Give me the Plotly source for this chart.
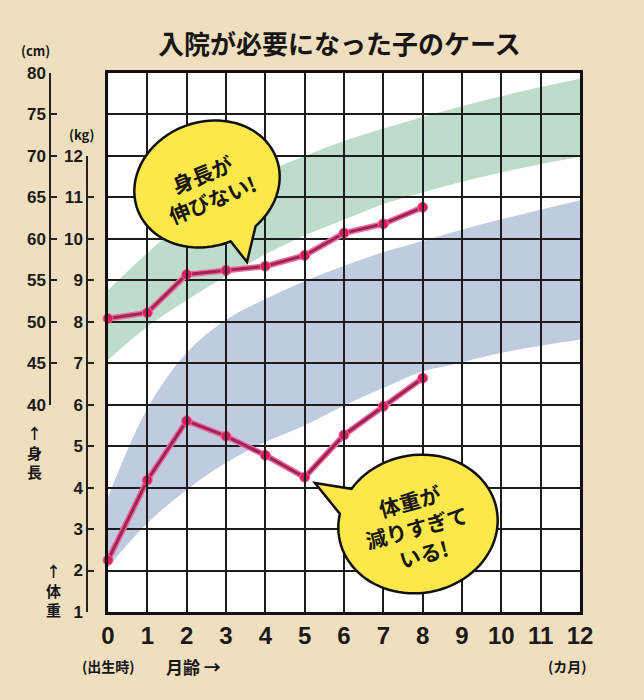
import numpy as np
import plotly.graph_objects as go

# ---------------- data ----------------
months = [0, 1, 2, 3, 4, 5, 6, 7, 8]
height_cm = [50.4, 51.1, 55.7, 56.2, 56.7, 58.0, 60.7, 61.8, 63.8]
weight_kg = [2.25, 4.18, 5.61, 5.24, 4.78, 4.25, 5.27, 5.96, 6.64]

ref_months = list(range(13))
height_upper = [53.8, 58.3, 62.3, 65.4, 68.0, 70.0, 71.8, 73.3, 74.7, 76.0, 77.2, 78.3, 79.3]
height_lower = [45.4, 49.4, 52.6, 55.5, 58.1, 60.4, 62.3, 64.2, 65.6, 66.9, 68.0, 69.0, 69.9]
weight_upper = [3.77, 5.9, 7.25, 8.05, 8.55, 8.98, 9.35, 9.68, 9.95, 10.22, 10.47, 10.7, 10.93]
weight_lower = [2.08, 3.14, 3.95, 4.6, 5.1, 5.5, 5.98, 6.4, 6.8, 7.02, 7.25, 7.42, 7.57]

x_ticks = list(range(13))
cm_ticks = [40, 45, 50, 55, 60, 65, 70, 75, 80]
kg_ticks = list(range(1, 13))

title_text = "入院が必要になった子のケース"
bubble1_text = "身長が<br>伸びない!"
bubble2_text = "体重が<br>減りすぎて<br>いる!"

# ---------------- geometry ----------------
W, H = 644, 700
ML, MR, MT, MB = 20, 64, 73, 88
PLOT_L = 108
pw = W - ML - MR
ph = H - MT - MB
xdom = [(PLOT_L - ML) / pw, 1.0]


def P(px, py):
    return (px - ML) / pw, (H - MB - py) / ph


BG = "#f0dfbf"
GREEN = "#bedccb"
BLUE = "#bfcce0"
NUM_FONT = "Liberation Sans Narrow, Arial Narrow, Liberation Sans, Arial, sans-serif"
JP_FONT = "Noto Sans CJK JP, sans-serif"


def bubble_path(cx, cy, a, b, phi_deg, t_end, t_start, tip):
    phi = np.radians(phi_deg)
    ts = np.radians(np.linspace(t_start, t_end + 360, 90))
    xs = cx + a * np.cos(ts) * np.cos(phi) - b * np.sin(ts) * np.sin(phi)
    ys = cy + a * np.cos(ts) * np.sin(phi) + b * np.sin(ts) * np.cos(phi)
    pts = [P(x, y) for x, y in zip(xs, ys)]
    d = "M %.5f %.5f " % pts[0]
    d += " ".join("L %.5f %.5f" % p for p in pts[1:])
    d += " L %.5f %.5f Z" % P(*tip)
    return d


fig = go.Figure()

# bands (subplot 1, under grid)
fig.add_trace(go.Scatter(x=ref_months, y=weight_lower, xaxis="x", yaxis="y", mode="lines",
                         line=dict(width=0, shape="spline", color=BLUE),
                         hoverinfo="skip", showlegend=False))
fig.add_trace(go.Scatter(x=ref_months, y=weight_upper, xaxis="x", yaxis="y", mode="lines",
                         line=dict(width=0, shape="spline", color=BLUE), fill="tonexty",
                         fillcolor=BLUE, hoverinfo="skip", showlegend=False))
fig.add_trace(go.Scatter(x=ref_months, y=height_lower, xaxis="x", yaxis="y5", mode="lines",
                         line=dict(width=0, shape="spline", color=GREEN),
                         hoverinfo="skip", showlegend=False))
fig.add_trace(go.Scatter(x=ref_months, y=height_upper, xaxis="x", yaxis="y5", mode="lines",
                         line=dict(width=0, shape="spline", color=GREEN), fill="tonexty",
                         fillcolor=GREEN, hoverinfo="skip", showlegend=False))

# child's curves (subplot 2, over grid)
for yax, vals in (("y2", weight_kg), ("y6", height_cm)):
    fig.add_trace(go.Scatter(x=months, y=vals, xaxis="x2", yaxis=yax, mode="lines",
                             line=dict(width=6, color="#ee6a9e"), cliponaxis=False,
                             hoverinfo="skip", showlegend=False))
    fig.add_trace(go.Scatter(x=months, y=vals, xaxis="x2", yaxis=yax, mode="lines+markers",
                             line=dict(width=3, color="#9e2458"),
                             marker=dict(size=10, color="#d81f5d",
                                         line=dict(width=1, color="#f06a9a")),
                             cliponaxis=False, showlegend=False))

# display axes (dummy traces so they render)
fig.add_trace(go.Scatter(x=[None], y=[None], xaxis="x2", yaxis="y3", showlegend=False, hoverinfo="skip"))
fig.add_trace(go.Scatter(x=[None], y=[None], xaxis="x2", yaxis="y4", showlegend=False, hoverinfo="skip"))

grid = dict(showgrid=True, gridcolor="#1c1c1c", gridwidth=2, zeroline=False,
            showline=True, mirror=True, linecolor="#111111", linewidth=3)

fig.update_layout(
    width=W, height=H,
    margin=dict(l=ML, r=MR, t=MT, b=MB),
    paper_bgcolor=BG, plot_bgcolor="rgba(0,0,0,0)",
    showlegend=False,
    xaxis=dict(domain=xdom, range=[0, 12], visible=False, anchor="y"),
    yaxis=dict(domain=[0, 1], range=[1, 14], visible=False, anchor="x"),
    yaxis5=dict(overlaying="y", range=[15, 80], visible=False, anchor="x"),
    xaxis2=dict(domain=xdom, range=[0, 12], anchor="y2", tickvals=x_ticks, ticks="",
                tickfont=dict(family=NUM_FONT, size=24, color="#1a1a1a", weight="bold"),
                ticklabelstandoff=0, **grid),
    yaxis2=dict(domain=[0, 1], range=[1, 14], anchor="x2", tick0=1, dtick=1, ticks="",
                showticklabels=False, **grid),
    yaxis6=dict(overlaying="y2", range=[15, 80], visible=False, anchor="x2"),
    yaxis3=dict(anchor="free", position=P(87, 0)[0], side="left", domain=[0, 11 / 13],
                range=[1, 12], tickvals=kg_ticks, ticks="inside", ticklen=6, tickwidth=1.5,
                tickcolor="#222", showline=True, linewidth=1.5, linecolor="#222",
                showgrid=False, zeroline=False,
                tickfont=dict(family=NUM_FONT, size=17, color="#1a1a1a", weight="bold")),
    yaxis4=dict(anchor="free", position=P(50, 0)[0], side="left", domain=[5 / 13, 1],
                range=[40, 80], tickvals=cm_ticks, ticks="inside", ticklen=6, tickwidth=1.5,
                tickcolor="#222", showline=True, linewidth=1.5, linecolor="#222",
                showgrid=False, zeroline=False,
                tickfont=dict(family=NUM_FONT, size=17, color="#1a1a1a", weight="bold")),
)

# white plotting area
fig.add_shape(type="rect", xref="paper", yref="paper", x0=xdom[0], x1=1, y0=0, y1=1,
              fillcolor="white", line=dict(width=0), layer="below")

# speech bubbles
fig.add_shape(type="path", xref="paper", yref="paper", layer="above",
              path=bubble_path(207, 184, 74, 62, -20, 65, 88, (247, 262)),
              fillcolor="#fde84c", line=dict(color="#111", width=2.5))
fig.add_shape(type="path", xref="paper", yref="paper", layer="above",
              path=bubble_path(418, 524, 80, 69, -10, 200, 222, (315, 483)),
              fillcolor="#fde84c", line=dict(color="#111", width=2.5))


def ann(px, py, text, size, family=JP_FONT, angle=0, xanchor="center", bold=True):
    x, y = P(px, py)
    fig.add_annotation(x=x, y=y, xref="paper", yref="paper", text=("<b>%s</b>" % text) if bold else text,
                       showarrow=False, textangle=angle, xanchor=xanchor, yanchor="middle",
                       font=dict(family=family, size=size, color="#161616"))


ann(339, 42, title_text, 26)
ann(207, 186, bubble1_text, 21, angle=-22)
ann(416, 527, bubble2_text, 21, angle=-15)
ann(35, 50, "(cm)", 13)
ann(81, 134, "(kg)", 13)
ann(34, 452, "↑<br>身<br>長", 15)
ann(53, 590, "↑<br>体<br>重", 15)
ann(108, 666, "(出生時)", 14)
ann(164, 666, "月齢 →", 17, xanchor="left")
ann(567, 666, "(カ月)", 14)

fig.write_html(
    "out.html",
    config={"displayModeBar": False},
    post_script="document.body.style.margin='0';document.body.style.background='%s';" % BG,
)
